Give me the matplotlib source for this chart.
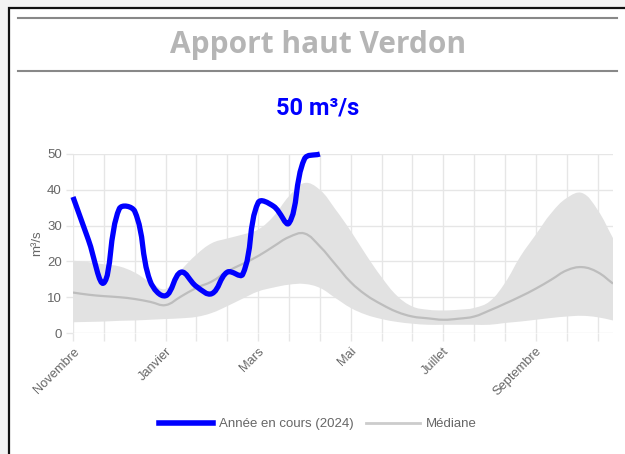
import numpy as np
import matplotlib.pyplot as plt
from matplotlib.path import Path
from matplotlib.patches import PathPatch, Rectangle
from matplotlib.lines import Line2D

# Decade index (3 per month) starting in November
decades = np.arange(36)
tick_labels = {0: 'Novembre', 6: 'Janvier', 12: 'Mars', 18: 'Mai', 24: 'Juillet', 30: 'Septembre'}

# Current year flow (m3/s), available up to the latest decade
annee_2024 = [38, 26, 14, 34.7, 34, 14.5, 10.4, 17, 13, 11, 17, 16.4, 36.4, 35.4, 30.7, 48.6, 50]

# Historical statistics
mediane = [11.3, 10.7, 10.3, 10.0, 9.5, 8.7, 7.8, 10.2, 12.6, 14.4, 17.2, 19.3,
           21.5, 24.2, 26.8, 27.8, 24.2, 19.2, 14.2, 10.6, 8.0, 5.9, 4.6, 4.1,
           3.7, 4.0, 4.6, 6.3, 8.2, 10.2, 12.4, 14.9, 17.5, 18.4, 17.0, 13.8]
q_haut = [20.2, 19.8, 19.2, 18.6, 16.9, 14.2, 12.3, 17.5, 21.9, 25.1, 26.4, 27.5,
          28.9, 32.6, 38.2, 41.9, 40.0, 34.6, 28.5, 21.8, 15.6, 10.4, 7.4, 6.5,
          6.3, 6.5, 7.0, 8.8, 14.0, 21.4, 27.5, 33.5, 37.7, 39.1, 34.4, 26.5]
q_bas = [3.0, 3.1, 3.2, 3.4, 3.5, 3.7, 3.9, 4.1, 4.5, 5.6, 7.5, 9.6,
         11.6, 12.7, 13.5, 13.7, 12.6, 9.8, 7.0, 5.1, 3.9, 3.1, 2.6, 2.3,
         2.3, 2.3, 2.3, 2.3, 2.8, 3.2, 3.7, 4.2, 4.6, 4.8, 4.4, 3.5]

SX, SY = 15.43, 3.58  # pixels per decade / per m3/s


def control_points(xs, ys, tension=0.4):
    xs = np.asarray(xs, float)
    ys = np.asarray(ys, float)
    n = len(xs)
    prev, nxt = [], []
    for i in range(n):
        p = max(i - 1, 0)
        a = min(i + 1, n - 1)
        d01 = np.hypot((xs[i] - xs[p]) * SX, (ys[i] - ys[p]) * SY)
        d12 = np.hypot((xs[a] - xs[i]) * SX, (ys[a] - ys[i]) * SY)
        tot = d01 + d12
        fa = tension * (d01 / tot if tot else 0)
        fb = tension * (d12 / tot if tot else 0)
        prev.append((xs[i] - fa * (xs[a] - xs[p]), ys[i] - fa * (ys[a] - ys[p])))
        nxt.append((xs[i] + fb * (xs[a] - xs[p]), ys[i] + fb * (ys[a] - ys[p])))
    return list(zip(xs, ys)), prev, nxt


def curve(xs, ys):
    pts, prev, nxt = control_points(xs, ys)
    verts = [pts[0]]
    codes = [Path.MOVETO]
    for i in range(1, len(pts)):
        verts += [nxt[i - 1], prev[i], pts[i]]
        codes += [Path.CURVE4] * 3
    return verts, codes


def band(xs, lo, hi):
    verts, codes = curve(xs, hi)
    pts, prev, nxt = control_points(xs, lo)
    verts.append(pts[-1])
    codes.append(Path.LINETO)
    for i in range(len(pts) - 1, 0, -1):
        verts += [prev[i], nxt[i - 1], pts[i - 1]]
        codes += [Path.CURVE4] * 3
    verts.append(pts[0])
    codes.append(Path.CLOSEPOLY)
    return Path(verts, codes)


W, H = 625, 454
fig = plt.figure(figsize=(W / 100, H / 100), dpi=100)
fig.patch.set_facecolor('#f3f3f3')

# page box
fig.add_artist(Rectangle((9 / W, -0.01), 1, 1 - 8 / H + 0.01, transform=fig.transFigure,
                         facecolor='white', edgecolor='#111111', lw=1.6, zorder=-2))
for yy in (18, 71):
    fig.add_artist(Line2D([18 / W, 617 / W], [1 - yy / H] * 2, color='#888888', lw=1.5,
                          zorder=-1))

fig.text(318 / W, 1 - 45 / H, 'Apport haut Verdon', ha='center', va='center',
         fontsize=21.5, weight='bold', color='#b5b5b5', family='Open Sans')
fig.text(318 / W, 1 - 108 / H, '50 m³/s', ha='center', va='center',
         fontsize=17, weight='bold', color='#0000ff', family='Roboto')

ax = fig.add_axes([73 / W, 121 / H, 540 / W, 179 / H])
ax.set_xlim(0, 35)
ax.set_ylim(0, 50)
for s in ax.spines.values():
    s.set_visible(False)

grid_c = '#e6e6e6'
ax.set_xticks(range(0, 35, 2))
ax.set_xticklabels([tick_labels.get(i, '') for i in range(0, 35, 2)],
                   rotation=45, ha='right', rotation_mode='anchor',
                   fontsize=9.3, color='#666666', family='Liberation Sans')
ax.set_yticks(range(0, 51, 10))
ax.set_yticklabels([str(v) for v in range(0, 51, 10)], fontsize=9.5,
                   color='#666666', family='Liberation Sans')
ax.tick_params(axis='x', length=6, color=grid_c, width=1, pad=3)
ax.tick_params(axis='y', length=5, color=grid_c, width=1, pad=3)
ax.grid(True, color=grid_c, lw=1)
ax.set_axisbelow(True)
ax.set_ylabel('m³/s', fontsize=9.5, color='#666666', family='Liberation Sans', labelpad=3)

ax.add_patch(PathPatch(band(decades, q_bas, q_haut), facecolor='#e2e2e2',
                       edgecolor='none', zorder=1))
v, c = curve(decades, mediane)
ax.add_patch(PathPatch(Path(v, c), facecolor='none', edgecolor='#bdbdbd', lw=1.6, zorder=2))
v, c = curve(decades[:len(annee_2024)], annee_2024)
ax.add_patch(PathPatch(Path(v, c), facecolor='none', edgecolor='#0000ff', lw=3.8,
                       capstyle='butt', joinstyle='round', zorder=3, clip_on=False))

handles = [Line2D([], [], color='#0000ff', lw=4),
           Line2D([], [], color='#cccccc', lw=2)]
fig.legend(handles, ['Année en cours (2024)', 'Médiane'], loc='center',
           bbox_to_anchor=(318 / W, 1 - 424 / H), ncol=2, frameon=False,
           prop={'family': 'Liberation Sans', 'size': 9.5}, labelcolor='#666666',
           handlelength=4.1, handletextpad=0.45, columnspacing=0.9)

fig.savefig('out.png', dpi=100, facecolor=fig.get_facecolor())
